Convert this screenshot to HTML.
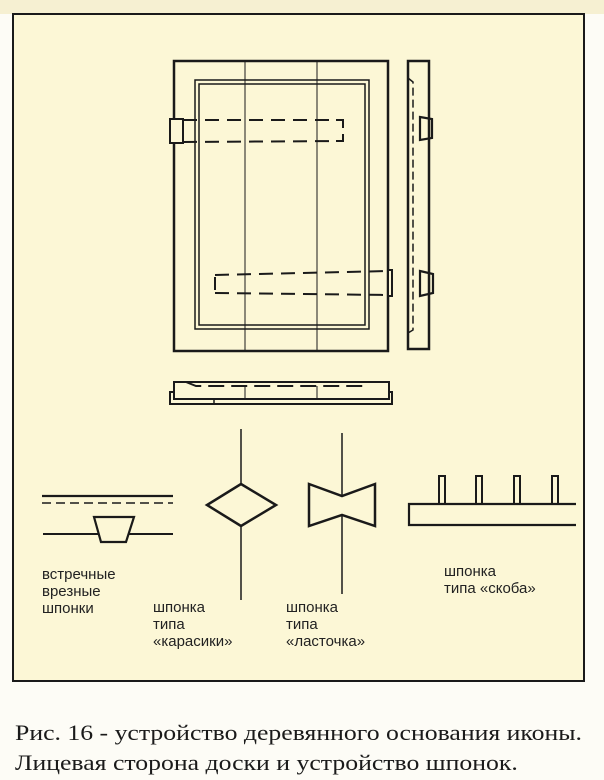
<!DOCTYPE html>
<html><head><meta charset="utf-8"><style>
html,body{margin:0;padding:0;background:#fdfcf6;}
body{width:604px;height:780px;position:relative;overflow:hidden;}
svg{position:absolute;left:0;top:0;}
.cap{position:absolute;left:15px;font-family:"Liberation Serif",serif;font-size:22px;color:#1a1a1a;white-space:nowrap;transform:scaleX(1.17);transform-origin:0 0;}
</style></head><body>
<svg width="604" height="780" viewBox="0 0 604 780">
<rect x="0" y="0" width="604" height="14" fill="#f6f0d2"/>
<rect x="13" y="14" width="571" height="667" fill="#fcf7d6" stroke="#1a1a1a" stroke-width="2"/>
<g fill="none" stroke="#1a1a1a">
<rect x="174" y="61" width="214" height="290" stroke-width="2.5"/>
<rect x="195" y="80" width="174" height="249" stroke-width="1.5"/>
<rect x="199" y="84" width="166" height="241" stroke-width="1.5"/>
<line x1="245" y1="61" x2="245" y2="351" stroke-width="1"/>
<line x1="317" y1="61" x2="317" y2="351" stroke-width="1"/>
<rect x="170" y="119" width="13" height="24" stroke-width="2" fill="#fcf7d6"/>
<line x1="183" y1="120" x2="343" y2="120" stroke-width="2" stroke-dasharray="14,8"/>
<line x1="183" y1="142" x2="343" y2="141" stroke-width="2" stroke-dasharray="14,8"/>
<polyline points="336,120 343,120 343,128" stroke-width="2"/>
<polyline points="343,134 343,141 336,141" stroke-width="2"/>
<rect x="388" y="270" width="4" height="26" stroke-width="2" fill="#fcf7d6"/>
<line x1="215" y1="275" x2="388" y2="271" stroke-width="2" stroke-dasharray="14,8"/>
<line x1="215" y1="293" x2="388" y2="295" stroke-width="2" stroke-dasharray="14,8"/>
<line x1="215" y1="277" x2="215" y2="290" stroke-width="2"/>
<rect x="408" y="61" width="21" height="288" stroke-width="2.5"/>
<polyline points="408,78 413,82 413,330 408,333" stroke-width="1.5" stroke-dasharray="8,4"/>
<polygon points="420,117 432,119 432,138 420,140" stroke-width="2.2"/>
<polygon points="420,271 433,274 433,293 420,296" stroke-width="2.2"/>
<rect x="174" y="382" width="215" height="17" stroke-width="2"/>
<polyline points="174,392 170,392 170,404 392,404 392,392 389,392" stroke-width="2"/>
<line x1="214" y1="399" x2="214" y2="404" stroke-width="1.5"/>
<polyline points="186,382 196,386 365,386" stroke-width="2" stroke-dasharray="16,7"/>
<line x1="245" y1="386" x2="245" y2="399" stroke-width="1"/>
<line x1="317" y1="386" x2="317" y2="399" stroke-width="1"/>
<line x1="42" y1="496" x2="173" y2="496" stroke-width="2.2"/>
<line x1="42" y1="503" x2="173" y2="503" stroke-width="1.5" stroke-dasharray="9,5"/>
<polyline points="43,534 98,534" stroke-width="2"/>
<polyline points="129,534 173,534" stroke-width="2"/>
<polygon points="94,517 134,517 126,542 101,542" stroke-width="2.2"/>
<line x1="241" y1="429" x2="241" y2="600" stroke-width="1.5"/>
<polygon points="241,484 276,505 241,526 207,505" stroke-width="2.5" fill="#fcf7d6"/>
<line x1="342" y1="433" x2="342" y2="594" stroke-width="1.5"/>
<polygon points="309,484 342,496 375,484 375,526 342,515 309,526" stroke-width="2.5" fill="#fcf7d6"/>
<polyline points="576,504 409,504 409,525 576,525" stroke-width="2.2"/>
<rect x="439" y="476" width="6" height="28" stroke-width="2"/>
<rect x="476" y="476" width="6" height="28" stroke-width="2"/>
<rect x="514" y="476" width="6" height="28" stroke-width="2"/>
<rect x="552" y="476" width="6" height="28" stroke-width="2"/>
</g>
<g font-family="Liberation Sans, sans-serif" font-size="15" fill="#222">
<text x="42" y="579">встречные</text>
<text x="42" y="596">врезные</text>
<text x="42" y="613">шпонки</text>
<text x="153" y="612">шпонка</text>
<text x="153" y="629">типа</text>
<text x="153" y="646">«карасики»</text>
<text x="286" y="612">шпонка</text>
<text x="286" y="629">типа</text>
<text x="286" y="646">«ласточка»</text>
<text x="444" y="576">шпонка</text>
<text x="444" y="593">типа «скоба»</text>
</g>
</svg>
<div class="cap" style="top:720px;">Рис. 16 - устройство деревянного основания иконы.</div>
<div class="cap" style="top:750px;">Лицевая сторона доски и устройство шпонок.</div>
</body></html>
